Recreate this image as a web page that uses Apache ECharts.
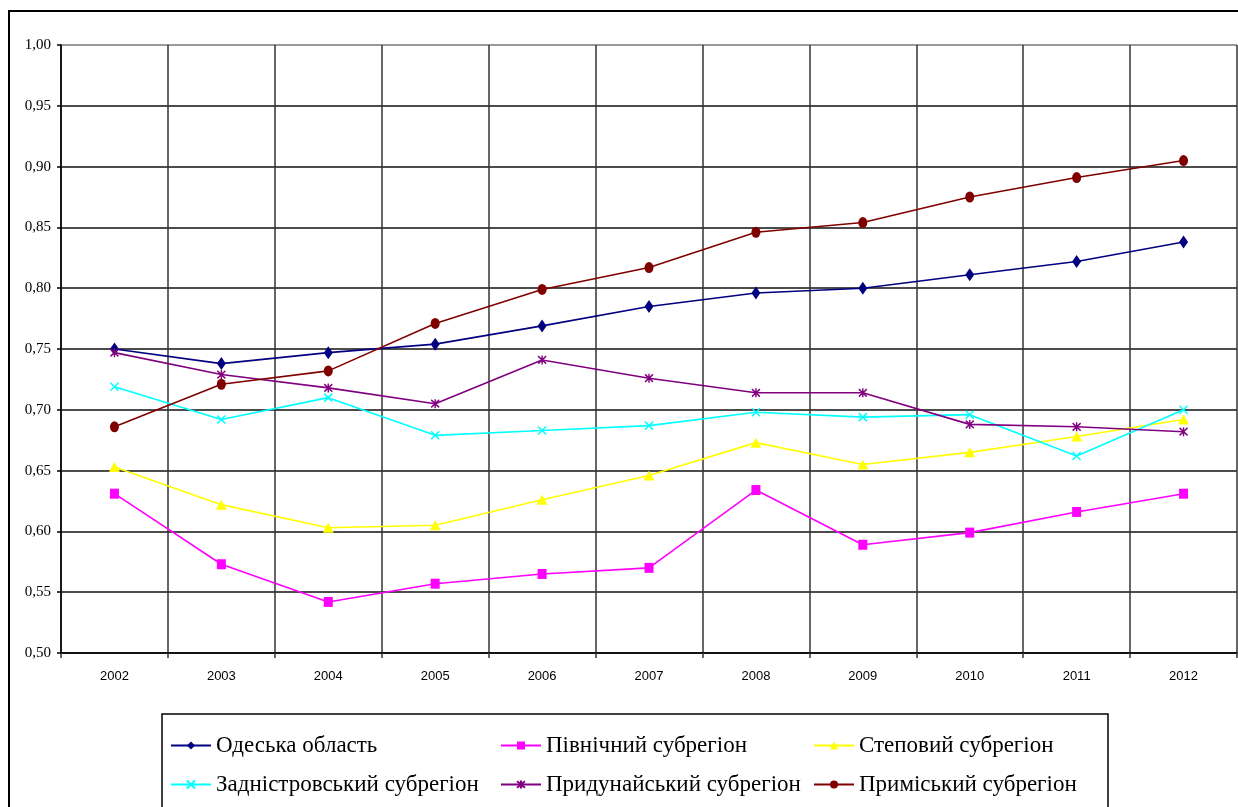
<!DOCTYPE html>
<html>
<head>
<meta charset="utf-8">
<script src="https://cdn.jsdelivr.net/npm/echarts@6/dist/echarts.min.js"></script>
<style>
html,body{margin:0;padding:0;background:#fff;}
#chart{width:1238px;height:807px;}
</style>
</head>
<body>
<div id="chart"></div>
<script>
const years = ['2002','2003','2004','2005','2006','2007','2008','2009','2010','2011','2012'];
const seriesNames = ['Одеська область','Північний субрегіон','Степовий субрегіон','Задністровський субрегіон','Придунайський субрегіон','Приміський субрегіон'];
const odeska = [0.750,0.738,0.747,0.754,0.769,0.785,0.796,0.800,0.811,0.822,0.838];
const pivnichnyi = [0.631,0.573,0.542,0.557,0.565,0.570,0.634,0.589,0.599,0.616,0.631];
const stepovyi = [0.653,0.622,0.603,0.605,0.626,0.646,0.673,0.655,0.665,0.678,0.692];
const zadnistrovskyi = [0.719,0.692,0.710,0.679,0.683,0.687,0.698,0.694,0.696,0.662,0.700];
const prydunaiskyi = [0.747,0.729,0.718,0.705,0.741,0.726,0.714,0.714,0.688,0.686,0.682];
const prymiskyi = [0.686,0.721,0.732,0.771,0.799,0.817,0.846,0.854,0.875,0.891,0.905];
const yTicks = {min:0.5, max:1.0, step:0.05};

const colors = ['#000080','#FF00FF','#FFFF00','#00FFFF','#800080','#800000'];
const symbols = ['diamond','rect','triangle','path://M0,0L10,10M10,0L0,10','path://M0,0L10,10M10,0L0,10M5,-1L5,11','circle'];
const sizes = [[9,13],[9,10],[11,10],[8,8],[8,9],[9,11]];
const datas = [odeska,pivnichnyi,stepovyi,zadnistrovskyi,prydunaiskyi,prymiskyi];

const series = datas.map((d,i)=>({
  name: seriesNames[i],
  type:'line',
  data:d,
  symbol:symbols[i],
  symbolSize:sizes[i],
  lineStyle:{color:colors[i],width:1.6},
  itemStyle:{color:colors[i],borderColor:colors[i],borderWidth:(i===3||i===4)?1.5:0},
  emphasis:{disabled:true},
  animation:false,
  z:10+i
}));

const legPos = [[165,729],[495,729],[808,729],[165,768],[495,768],[808,768]];
const legends = seriesNames.map((n,i)=>({
  data:[n],
  left:legPos[i][0], top:legPos[i][1],
  itemWidth:40, itemHeight:10, itemGap:4,
  textStyle:{fontFamily:'Liberation Serif',fontSize:23,color:'#000'},
  selectedMode:false
}));

const splitColors = ['#111','#111','#111','#111','#111','#111','#111','#111','#111','#111','#777'];

const chart = echarts.init(document.getElementById('chart'));
chart.setOption({
  backgroundColor:'#fff',
  animation:false,
  color:colors,
  grid:{left:61,top:45,right:1,bottom:154,containLabel:false},
  legend:legends,
  xAxis:{
    type:'category',
    data:years,
    boundaryGap:true,
    axisLine:{show:true,lineStyle:{color:'#000',width:1.5}},
    axisTick:{show:true,length:5,alignWithLabel:false,lineStyle:{color:'#333',width:1.5}},
    axisLabel:{fontFamily:'Liberation Sans',fontSize:13,color:'#000',margin:17},
    splitLine:{show:true,lineStyle:{color:'#333',width:1.5}}
  },
  yAxis:{
    type:'value',
    min:yTicks.min,max:yTicks.max,interval:yTicks.step,
    axisLine:{show:true,lineStyle:{color:'#000',width:1.5}},
    axisTick:{show:true,length:4,lineStyle:{color:'#000',width:1.5}},
    axisLabel:{fontFamily:'Liberation Serif',fontSize:15,color:'#000',margin:10,
      formatter:v=>v.toFixed(2).replace('.',',')},
    splitLine:{show:true,lineStyle:{color:splitColors,width:1.6}}
  },
  graphic:[
    {type:'rect',shape:{x:9,y:11,width:1400,height:900},style:{fill:null,stroke:'#000',lineWidth:2},silent:true,z:-1},
    {type:'rect',shape:{x:162,y:714,width:946,height:200},style:{fill:null,stroke:'#000',lineWidth:1.5},silent:true,z:-1}
  ],
  series:series
});
</script>
</body>
</html>
